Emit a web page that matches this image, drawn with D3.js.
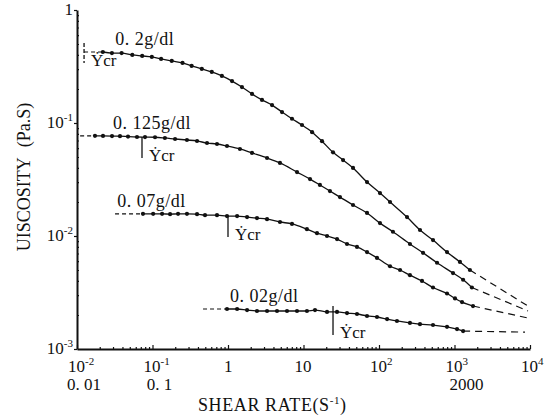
<!DOCTYPE html>
<html>
<head>
<meta charset="utf-8">
<script src="https://cdn.jsdelivr.net/npm/d3@7"></script>
<style>
  body { margin: 0; background: #fff; }
  text { font-family: "Liberation Serif", "DejaVu Serif", serif; fill: #111; }
</style>
</head>
<body>
<div id="chart"></div>
<script>
// concentrations
var concLabels = ["0. 2g/dl", "0. 125g/dl", "0. 07g/dl", "0. 02g/dl"];

// measured points: shear rate (1/s) and viscosity (Pa.s)
var rate02 = [0.022,0.029,0.039,0.054,0.073,0.098,0.13,0.18,0.25,0.33,0.45,0.61,0.83,1.13,1.53,2.08,2.82,3.83,5.19,7.04,9.55,13.0,17.6,24.6,33.4,45.3,69.4,103,140,235,349,519,796,1180,1600];
var visc02 = [0.425,0.416,0.416,0.400,0.392,0.384,0.369,0.354,0.340,0.320,0.301,0.283,0.261,0.235,0.208,0.181,0.160,0.144,0.125,0.109,0.096,0.083,0.069,0.055,0.047,0.040,0.030,0.024,0.020,0.0147,0.0113,0.0092,0.0072,0.0059,0.0050];

var rate0125 = [0.0173,0.0221,0.0291,0.0371,0.0474,0.0623,0.0796,0.108,0.146,0.199,0.286,0.389,0.527,0.715,0.970,1.44,2.08,3.29,4.88,8.20,12.2,16.5,22.4,30.4,45.3,69.4,103,153,257,383,587,955,1300,1700];
var visc0125 = [0.0770,0.0768,0.0766,0.0765,0.0758,0.0752,0.0750,0.0748,0.0737,0.0722,0.0707,0.0693,0.0665,0.0652,0.0626,0.0589,0.0543,0.0490,0.0443,0.0368,0.0319,0.0283,0.0250,0.0221,0.0188,0.0160,0.0130,0.0109,0.0085,0.0071,0.0058,0.0047,0.0041,0.0035];

var rate007 = [0.0748,0.102,0.134,0.171,0.218,0.286,0.389,0.496,0.715,0.970,1.32,1.79,2.42,3.29,4.88,7.04,11.1,15.1,20.5,27.8,37.7,51.1,69.4,94.1,140,190,257,371,519,796,1015,1257,1758];
var visc007 = [0.0157,0.0157,0.0157,0.0156,0.0157,0.0157,0.0156,0.0153,0.0153,0.0150,0.0150,0.0147,0.0144,0.0141,0.0133,0.0128,0.0115,0.0106,0.0100,0.0094,0.0085,0.0080,0.0072,0.0064,0.0054,0.0050,0.0045,0.0040,0.0035,0.0031,0.0028,0.0026,0.0024];

var rate002 = [0.970,1.32,1.79,2.42,3.29,4.46,6.05,8.20,11.1,14.2,20.5,27.8,37.7,51.1,69.4,94.1,128,173,257,349,519,796,1080,1300];
var visc002 = [0.00226,0.00226,0.00221,0.00217,0.00217,0.00217,0.00217,0.00217,0.00217,0.00221,0.00213,0.00213,0.00208,0.00204,0.00196,0.00192,0.00184,0.00177,0.00170,0.00166,0.00163,0.00157,0.00150,0.00144];

// dashed extrapolations
var leftDashRate = [0.0124, 0.0110, 0.0319, 0.467];
var rightDashRate = [9400, 9400, 9400, 8600];
var rightDashVisc = [0.0024, 0.00217, 0.00188, 0.00141];

// critical shear rate markers
var ycrRate = [0.0124, 0.0726, 1.0, 24.6];
var ycrTop = [0.51, 0.0752, 0.0150, 0.0024];
var ycrBottom = [0.34, 0.049, 0.0098, 0.00133];

// label start (shear rate)
var labelRate = [0.032, 0.030, 0.034, 1.06];

// ticks
var xTicks = [0.01, 0.1, 1, 10, 100, 1000, 10000];
var xTickText = [["10","-2"],["10","-1"],["1",""],["10",""],["10","2"],["10","3"],["10","4"]];
var xExtraTicks = [0.01, 0.1, 1000];
var xExtraText = ["0. 01", "0. 1", "2000"];
var yTicks = [1, 0.1, 0.01, 0.001];
var yTickText = [["1",""],["10","-1"],["10","-2"],["10","-3"]];

var rates = [rate02, rate0125, rate007, rate002];
var viscs = [visc02, visc0125, visc007, visc002];

var width = 550, height = 419;
var svg = d3.select("#chart").append("svg")
    .attr("width", width)
    .attr("height", height);

var x = d3.scaleLog().domain([0.01, 10000]).range([77, 530]);
var y = d3.scaleLog().domain([0.001, 1]).range([349, 10]);

// minor ticks
var minorX = [], minorY = [];
[0.01, 0.1, 1, 10, 100, 1000].forEach(function(d) {
    for (var k = 2; k < 10; k++) minorX.push(d * k);
});
[0.001, 0.01, 0.1].forEach(function(d) {
    for (var k = 2; k < 10; k++) minorY.push(d * k);
});

svg.append("g")
    .attr("transform", "translate(0," + y(0.001) + ")")
    .call(d3.axisBottom(x).tickValues(minorX).tickSize(-2).tickFormat(""))
    .call(function(g) { g.select(".domain").remove(); });
svg.append("g")
    .attr("transform", "translate(" + x(0.01) + ",0)")
    .call(d3.axisLeft(y).tickValues(minorY).tickSize(-2).tickFormat(""))
    .call(function(g) { g.select(".domain").remove(); });

// main axes
var xAxis = svg.append("g")
    .attr("transform", "translate(0," + y(0.001) + ")")
    .call(d3.axisBottom(x).tickValues(xTicks).tickSizeInner(-4).tickSizeOuter(0).tickFormat(""));
var yAxis = svg.append("g")
    .attr("transform", "translate(" + x(0.01) + ",0)")
    .call(d3.axisLeft(y).tickValues(yTicks).tickSizeInner(3).tickSizeOuter(0).tickFormat(""));
svg.selectAll(".domain").attr("stroke", "#111").attr("stroke-width", 2);
svg.selectAll(".tick line").attr("stroke", "#111").attr("stroke-width", 1.2);

// x tick labels
xTicks.forEach(function(d, i) {
    var t = svg.append("text")
        .attr("x", x(d) - (xTickText[i][0].length > 1 ? 9 : 4))
        .attr("y", 372)
        .style("font-size", "17px");
    t.append("tspan").text(xTickText[i][0]);
    if (xTickText[i][1]) {
        t.append("tspan").attr("dy", -7).style("font-size", "11px").text(xTickText[i][1]);
    }
});
xExtraTicks.forEach(function(d, i) {
    svg.append("text")
        .attr("x", i < 2 ? x(d) + 7 : x(d) + 12)
        .attr("y", 390)
        .attr("text-anchor", "middle")
        .style("font-size", "17px")
        .text(xExtraText[i]);
});

// y tick labels
yTicks.forEach(function(d, i) {
    var t = svg.append("text")
        .attr("x", 73)
        .attr("y", y(d) + 5)
        .attr("text-anchor", "end")
        .style("font-size", "17px");
    t.append("tspan").text(yTickText[i][0]);
    if (yTickText[i][1]) {
        t.append("tspan").attr("dy", -7).style("font-size", "11px").text(yTickText[i][1]);
    }
});

// axis titles
var xt = svg.append("text")
    .attr("x", 198)
    .attr("y", 411)
    .style("font-size", "18px")
    .style("letter-spacing", "0.6px");
xt.append("tspan").text("SHEAR RATE(S");
xt.append("tspan").attr("dy", -7).style("font-size", "11px").text("-1");
xt.append("tspan").attr("dy", 7).text(")");

var yt = svg.append("text")
    .attr("transform", "translate(30,177) rotate(-90)")
    .attr("text-anchor", "middle")
    .style("font-size", "18px");
yt.append("tspan").text("UISCOSITY");
yt.append("tspan").attr("dx", 10).text("(Pa.S)");

// curves
var line = d3.line()
    .x(function(d) { return x(d[0]); })
    .y(function(d) { return y(d[1]); })
    .curve(d3.curveMonotoneX);

rates.forEach(function(r, i) {
    var pts = d3.zip(r, viscs[i]);
    var first = pts[0], last = pts[pts.length - 1];

    svg.append("path")
        .datum([[leftDashRate[i], first[1]], first])
        .attr("d", line)
        .attr("fill", "none")
        .attr("stroke", "#111")
        .attr("stroke-width", 1.2)
        .attr("stroke-dasharray", "4,3");

    svg.append("path")
        .datum([last, [rightDashRate[i], rightDashVisc[i]]])
        .attr("d", line)
        .attr("fill", "none")
        .attr("stroke", "#111")
        .attr("stroke-width", 1.2)
        .attr("stroke-dasharray", "7,5");

    svg.append("path")
        .datum(pts)
        .attr("d", line)
        .attr("fill", "none")
        .attr("stroke", "#111")
        .attr("stroke-width", 1.3);

    svg.selectAll(".pt" + i)
        .data(pts)
        .enter()
        .append("circle")
        .attr("class", "pt" + i)
        .attr("cx", function(d) { return x(d[0]); })
        .attr("cy", function(d) { return y(d[1]); })
        .attr("r", 2.1)
        .attr("fill", "#111");

    // concentration label
    svg.append("text")
        .attr("x", x(labelRate[i]))
        .attr("y", y(first[1]) - 7)
        .style("font-size", "18px")
        .style("letter-spacing", "0.5px")
        .text(concLabels[i]);

    // critical shear rate
    svg.append("line")
        .attr("x1", x(ycrRate[i])).attr("x2", x(ycrRate[i]))
        .attr("y1", y(ycrTop[i])).attr("y2", y(ycrBottom[i]))
        .attr("stroke", "#111")
        .attr("stroke-width", 1.3)
        .attr("stroke-dasharray", i == 0 ? "4,2" : null);
    svg.append("text")
        .attr("x", x(ycrRate[i]) + 7)
        .attr("y", y(ycrBottom[i]) + 3)
        .style("font-size", "17px")
        .text("\u1E8Ecr");
});
</script>
</body>
</html>
